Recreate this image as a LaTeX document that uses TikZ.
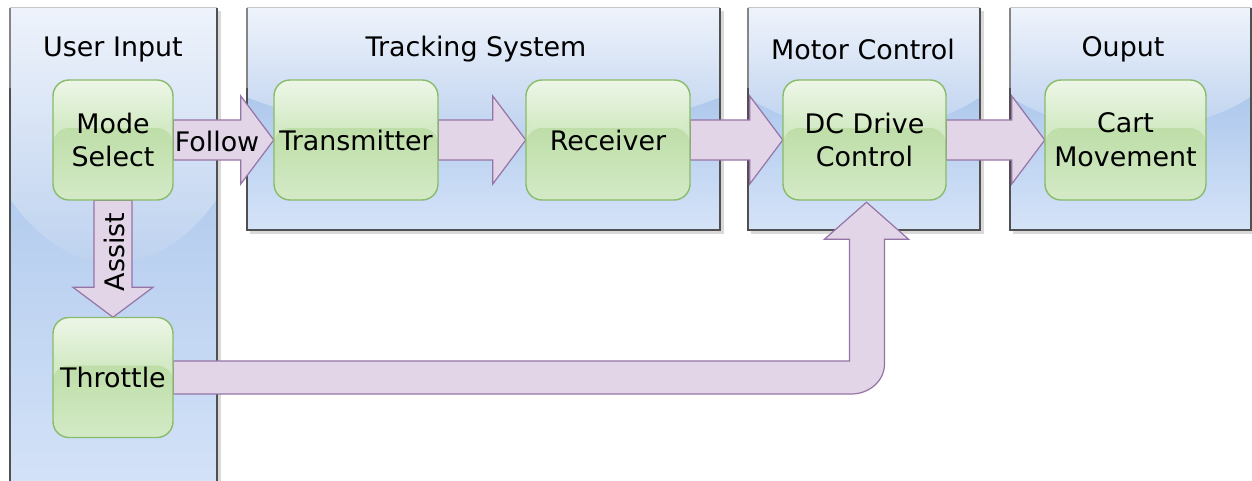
\documentclass[tikz,border=0pt]{standalone}
\usepackage{fontspec}
\setmainfont{DejaVu Sans}
\usetikzlibrary{calc}

\definecolor{panelTop}{HTML}{EEF3FB}
\definecolor{panelMid}{HTML}{BED2EF}
\definecolor{panelDark}{HTML}{A6C3EA}
\definecolor{panelLow}{HTML}{D5E3F8}
\definecolor{panelEdge}{HTML}{505050}
\definecolor{boxTop}{HTML}{EDF6E7}
\definecolor{boxMid}{HTML}{D3EAC5}
\definecolor{boxSat}{HTML}{BEDEA8}
\definecolor{boxLow}{HTML}{D4EAC7}
\definecolor{boxLine}{HTML}{88BB6A}
\definecolor{arrFill}{HTML}{E1D5E7}
\definecolor{arrLine}{HTML}{9673A6}

% panel: x1, y1, x2, y2, gloss x radius, gloss y radius
\newcommand\drawpanel[6]{%
  \fill[black!15] (#1+3,#2+3) rectangle (#3+4,#4+4);
  \begin{scope}
    \clip (#1,#2) rectangle (#3,#4);
    \fill[panelDark] (#1,#2) rectangle (#3,#2+60);
    \shade[top color=panelDark,bottom color=panelLow] (#1,#2+60) rectangle (#3,#4);
    \begin{scope}
      \clip ({(#1+#3)/2},#2) ellipse[x radius=#5,y radius=#6];
      \shade[top color=panelTop,bottom color=panelMid] (#1,#2) rectangle (#3,#2+#6);
    \end{scope}
  \end{scope}
  \draw[black!22,line width=1bp] (#1,#2) -- (#3,#2);
  \draw[panelEdge!70,line width=1.3bp] (#1,#2) -- (#1,#2+80);
  \draw[panelEdge,line width=1.3bp] (#1,#2+80) -- (#1,#4) -- (#3,#4) -- (#3,#2);
}

\tikzset{
  gbox/.style={rounded corners=16bp, draw=boxLine, line width=1.4bp,
    fill=boxLow, inner sep=0pt, minimum height=120bp, align=center,
    font=\fontsize{27}{34}\selectfont,
    path picture={
      \path (path picture bounding box.north west) coordinate (pa)
            (path picture bounding box.south east) coordinate (pb);
      \shade[top color=boxSat,bottom color=boxLow]
        ($(pa)!0.4!(pa|-pb)$) rectangle (pb);
      \shade[top color=boxTop,bottom color=boxMid]
        (pa) rectangle ($(pb|-pa)!0.4!(pb)$);
    }},
  anchorbox/.style={rounded corners=16bp, inner sep=0pt, minimum height=120bp},
  blockarrow/.style={fill=arrFill, draw=arrLine, line width=1.2bp, line join=miter},
  title/.style={font=\fontsize{27}{34}\selectfont, inner sep=0pt},
  tag/.style={font=\fontsize{27}{34}\selectfont, inner sep=0pt}
}

% horizontal block arrow between two boxes
\newcommand\harrow[2]{%
  \path[blockarrow] ($(#1.east)+(0,-20)$) -- ($(#2.west)+(-33,-20)$)
    -- ($(#2.west)+(-33,-44)$) -- (#2.west) -- ($(#2.west)+(-33,44)$)
    -- ($(#2.west)+(-33,20)$) -- ($(#1.east)+(0,20)$) -- cycle;}

\begin{document}
\begin{tikzpicture}[x=1bp,y=-1bp]
\clip (0,0) rectangle (1252,481);
\fill[white] (0,0) rectangle (1252,481);

% swimlane panels
\drawpanel{10}{8}{217}{500}{156}{255}
\drawpanel{247}{8}{720}{230}{330}{128}
\drawpanel{748}{8}{980}{230}{170}{122}
\drawpanel{1010}{8}{1251}{230}{175}{122}

\node[title] (tUser)  at (113,49)  {User Input};
\node[title] (tTrack) at (476,49)  {Tracking System};
\node[title] (tMotor) at (863,49)  {Motor Control};
\node[title] (tOut)   at (1123,49) {Ouput};

% box outlines used as arrow anchors
\node[anchorbox,minimum width=120bp] (ms) at (113,140) {};
\node[anchorbox,minimum width=120bp] (th) at (113,377.5) {};
\node[anchorbox,minimum width=164bp] (tx) at (356,140) {};
\node[anchorbox,minimum width=164bp] (rx) at (608,140) {};
\node[anchorbox,minimum width=163bp] (dc) at (864.5,140) {};
\node[anchorbox,minimum width=161bp] (cm) at (1125.5,140) {};

\harrow{ms}{tx}
\harrow{tx}{rx}
\harrow{rx}{dc}
\harrow{dc}{cm}

% Mode Select down to Throttle
\path[blockarrow] ($(ms.south)+(-19,0)$) -- ($(th.north)+(-19,-30)$)
  -- ($(th.north)+(-40,-30)$) -- (th.north) -- ($(th.north)+(40,-30)$)
  -- ($(th.north)+(19,-30)$) -- ($(ms.south)+(19,0)$) -- cycle;

% Throttle round to DC Drive Control
\coordinate (elb) at (dc.south |- th.east);
\path[blockarrow] ($(th.east)+(0,-16.5)$) -- ($(elb)+(-15,-16.5)$)
  -- ($(dc.south)+(-15,39)$) -- ($(dc.south)+(-40,39)$) -- ($(dc.south)+(2,2)$)
  -- ($(dc.south)+(44,39)$) -- ($(dc.south)+(20,39)$) -- ($(elb)+(20,-13.5)$)
  .. controls ($(elb)+(20,4)$) and ($(elb)+(4,16.5)$) .. ($(elb)+(-13,16.5)$)
  -- ($(th.east)+(0,16.5)$) -- cycle;

% process boxes
\node[gbox,minimum width=120bp] (msb) at (ms) {Mode\\Select};
\node[gbox,minimum width=120bp] (thb) at (th) {Throttle};
\node[gbox,minimum width=164bp] (txb) at (tx) {Transmitter};
\node[gbox,minimum width=164bp] (rxb) at (rx) {Receiver};
\node[gbox,minimum width=163bp] (dcb) at (dc) {DC Drive\\Control};
\node[gbox,minimum width=161bp] (cmb) at (cm) {Cart\\Movement};

% arrow labels
\node[tag] (lFollow) at (217,141) {Follow};
\node[tag,rotate=90] (lAssist) at (114,252) {Assist};
\end{tikzpicture}
\end{document}
